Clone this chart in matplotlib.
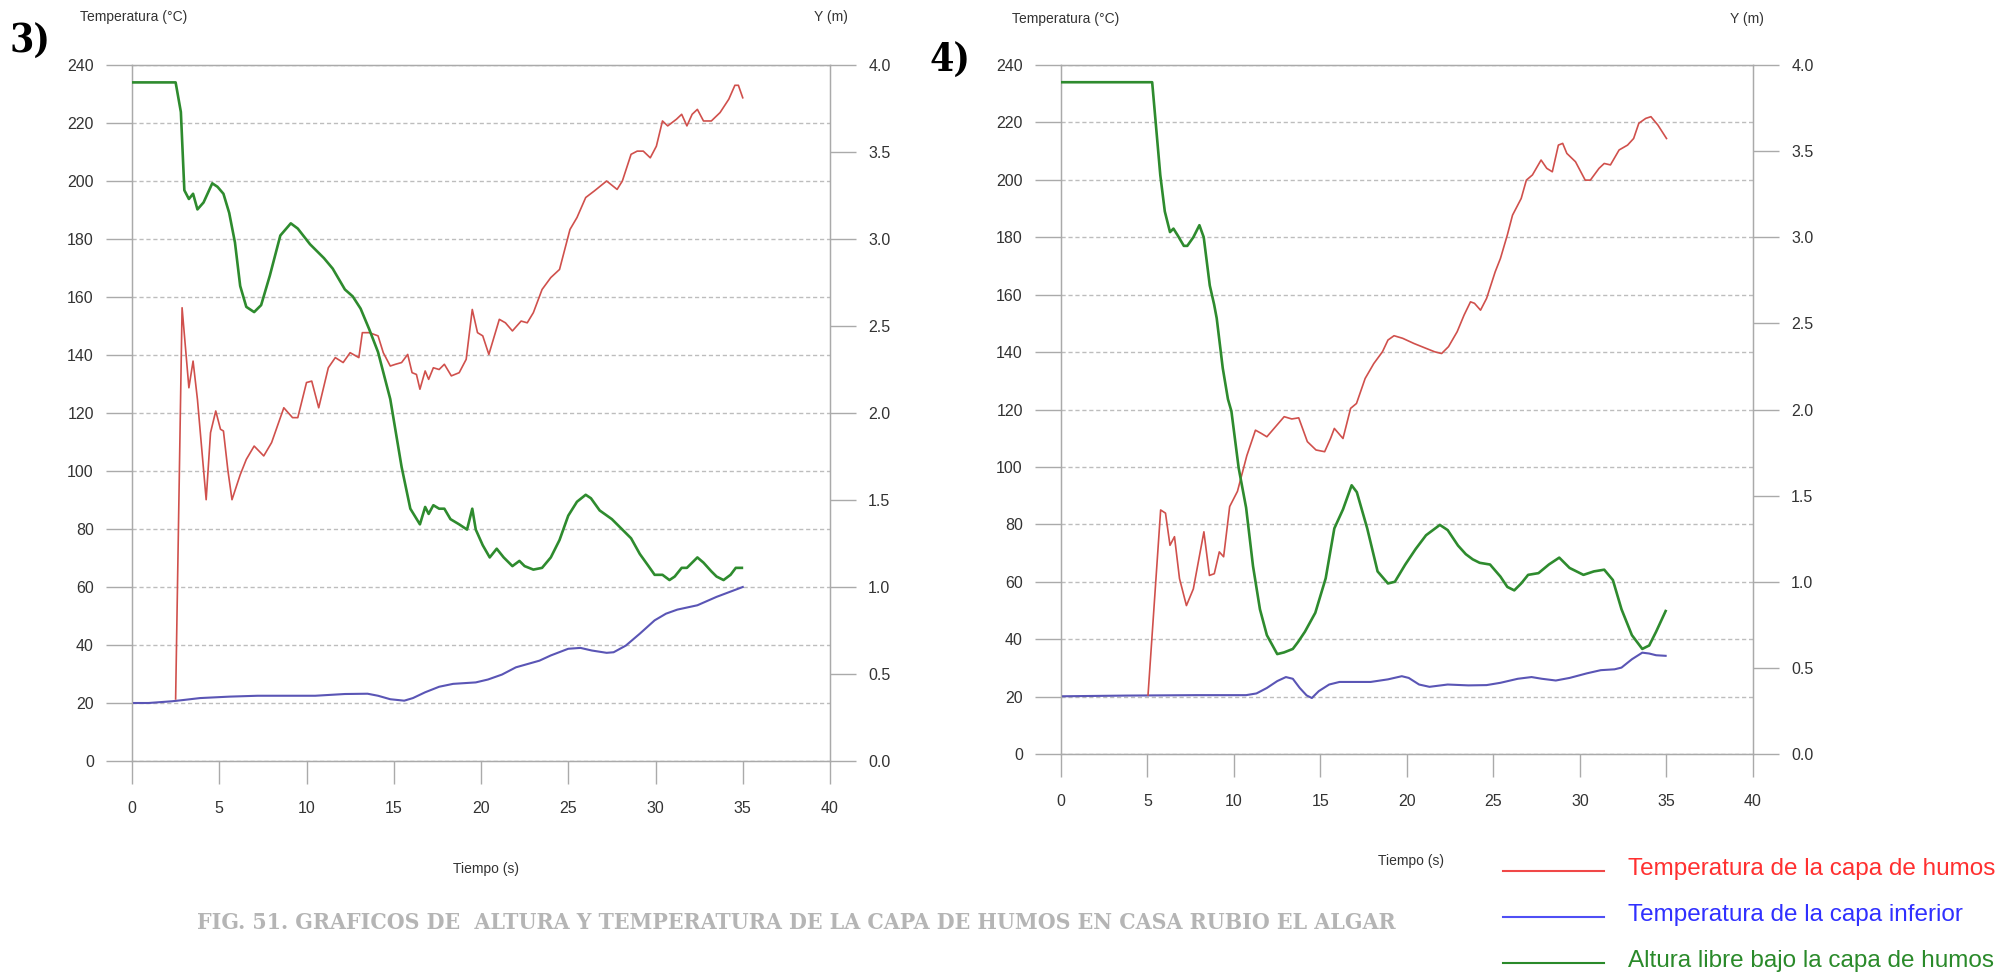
import matplotlib.pyplot as plt
from matplotlib.lines import Line2D

# ---- data (time in s, temperature in degC, height in m) ----
# chart 3)
t3_hot = [2.5, 2.87, 3.26, 3.5, 3.75, 4.25, 4.5, 4.8, 5.07, 5.24, 5.5, 5.73, 6.2, 6.55, 7.0,
          7.55, 8.0, 8.7, 9.2, 9.5, 10.0, 10.3, 10.7, 11.25, 11.65, 12.1, 12.5, 13.0, 13.2, 13.6,
          14.1, 14.4, 14.8, 15.1, 15.45, 15.8, 16.05, 16.3, 16.5, 16.8, 17.0, 17.27, 17.6, 17.9, 18.3,
          18.75, 19.15, 19.5, 19.8, 20.1, 20.45, 21.05, 21.4, 21.8, 22.3, 22.65, 23.0, 23.5, 24.0, 24.5,
          25.1, 25.5, 26.0, 26.5, 27.2, 27.8, 28.1, 28.6, 28.95, 29.3, 29.7, 30.05, 30.4, 30.7, 31.2,
          31.5, 31.8, 32.1, 32.4, 32.75, 33.2, 33.7, 34.2, 34.55, 34.75, 35.0]
T3_hot = [21.4, 156.3, 128.7, 137.9, 124.7, 90.1, 113.2, 120.7, 114.4, 113.8, 100.0, 90.1, 98.7, 104.0, 108.6,
          105.2, 109.8, 121.8, 118.4, 118.4, 130.5, 131.0, 121.8, 135.6, 139.1, 137.4, 140.8, 139.1, 147.7, 147.7,
          146.6, 140.8, 136.2, 136.8, 137.4, 140.2, 133.9, 133.3, 128.2, 134.5, 131.6, 135.6, 135.0, 136.8, 132.8,
          133.9, 138.5, 155.7, 147.7, 146.6, 140.2, 152.3, 151.1, 148.3, 151.7, 151.1, 154.6, 162.6, 166.7, 169.5,
          183.3, 187.4, 194.3, 196.6, 200.0, 197.1, 200.0, 209.2, 210.3, 210.3, 208.0, 212.0, 220.7, 219.0, 221.3,
          223.0, 219.0, 223.0, 224.7, 220.7, 220.7, 223.6, 228.2, 233.0, 233.0, 228.7]
t3_low = [0, 0.95, 2.3, 2.9, 3.9, 5.6, 7.2, 8.9, 10.5, 12.2, 13.5, 14.1, 14.8, 15.6, 16.1, 16.8, 17.6, 18.4,
          19.7, 20.4, 21.2, 22.0, 23.35, 24.0, 25.0, 25.7, 26.35, 27.2, 27.6, 28.3, 29.1, 29.95, 30.6, 31.25,
          32.4, 33.5, 35.0]
T3_low = [20.0, 20.0, 20.6, 21.0, 21.7, 22.2, 22.5, 22.5, 22.5, 23.1, 23.2, 22.5, 21.3, 20.8, 21.7, 23.7, 25.6, 26.6,
          27.1, 28.1, 29.8, 32.3, 34.6, 36.4, 38.7, 39.0, 38.1, 37.3, 37.5, 39.8, 43.9, 48.5, 50.8, 52.2,
          53.7, 56.6, 60.0]
t3_clear = [0, 2.5, 2.8, 3.0, 3.26, 3.5, 3.75, 4.1, 4.6, 4.9, 5.24, 5.57, 5.9, 6.2, 6.55, 7.0, 7.4, 7.9, 8.5, 9.1,
            9.5, 10.2, 11.0, 11.5, 12.2, 12.65, 13.1, 13.6, 14.1, 14.8, 15.45, 15.95, 16.5, 16.8, 17.0, 17.27,
            17.6, 17.9, 18.25, 18.75, 19.2, 19.5, 19.7, 20.1, 20.5, 20.9, 21.3, 21.8, 22.2, 22.5, 23.0, 23.5,
            24.0, 24.5, 25.0, 25.5, 26.0, 26.3, 26.8, 27.5, 28.1, 28.6, 29.1, 29.6, 29.95, 30.4, 30.8, 31.1,
            31.5, 31.8, 32.4, 32.75, 33.2, 33.5, 33.9, 34.3, 34.6, 34.95]
Y3_clear = [3.9, 3.9, 3.73, 3.28, 3.23, 3.26, 3.17, 3.21, 3.32, 3.30, 3.26, 3.15, 2.98, 2.73, 2.61, 2.58, 2.62, 2.79,
            3.02, 3.09, 3.06, 2.97, 2.89, 2.83, 2.71, 2.67, 2.60, 2.48, 2.35, 2.08, 1.69, 1.45, 1.36, 1.46, 1.42,
            1.47, 1.45, 1.45, 1.39, 1.36, 1.33, 1.45, 1.33, 1.24, 1.17, 1.22, 1.17, 1.12, 1.15, 1.12, 1.10, 1.11,
            1.17, 1.27, 1.41, 1.49, 1.53, 1.51, 1.44, 1.39, 1.33, 1.28, 1.19, 1.12, 1.07, 1.07, 1.04, 1.06, 1.11,
            1.11, 1.17, 1.14, 1.09, 1.06, 1.04, 1.07, 1.11, 1.11]

# chart 4)
t4_hot = [5.03, 5.76, 6.04, 6.3, 6.56, 6.85, 7.25, 7.65, 8.26, 8.58, 8.86, 9.15, 9.4, 9.75, 10.2, 10.74, 11.24,
          11.57, 11.9, 12.4, 12.9, 13.34, 13.74, 14.24, 14.74, 15.24, 15.58, 15.8, 16.3, 16.74, 17.08, 17.58,
          18.08, 18.58, 18.9, 19.25, 19.75, 20.4, 21.1, 21.6, 22.0, 22.4, 22.9, 23.3, 23.67, 23.9, 24.25, 24.6,
          25.1, 25.4, 25.8, 26.1, 26.6, 26.9, 27.25, 27.75, 28.08, 28.4, 28.75, 29.0, 29.24, 29.74, 30.3, 30.6,
          31.1, 31.4, 31.76, 32.26, 32.75, 33.1, 33.4, 33.8, 34.1, 34.5, 35.0]
T4_hot = [20.5, 85.0, 83.9, 72.7, 75.7, 61.1, 51.7, 57.5, 77.4, 62.2, 62.8, 70.4, 68.7, 86.2, 91.5, 103.9, 112.8,
          111.7, 110.5, 114.0, 117.5, 116.7, 117.1, 108.8, 105.9, 105.3, 109.9, 113.4, 109.9, 120.4, 122.1, 130.8,
          136.0, 140.1, 144.2, 145.7, 144.8, 143.0, 141.3, 140.1, 139.5, 141.9, 147.1, 152.9, 157.5, 157.0, 154.6,
          158.7, 168.0, 172.6, 180.8, 187.7, 193.5, 199.9, 201.7, 206.9, 204.0, 202.8, 212.1, 212.7, 209.2, 206.3,
          199.9, 199.9, 204.0, 205.7, 205.2, 210.4, 212.1, 214.4, 219.7, 221.4, 222.0, 219.1, 214.4]
t4_low = [0, 3.8, 7.85, 10.7, 11.3, 11.9, 12.5, 13.0, 13.4, 13.8, 14.2, 14.5, 14.9, 15.5, 16.1, 16.9, 17.9, 18.9,
          19.7, 20.1, 20.7, 21.3, 22.35, 23.55, 24.6, 25.4, 26.4, 27.2, 27.8, 28.6, 29.4, 30.4, 31.2, 32.0, 32.4,
          33.0, 33.6, 34.0, 34.4, 34.95]
T4_low = [20.1, 20.35, 20.5, 20.5, 21.1, 23.0, 25.4, 26.8, 26.2, 23.0, 20.4, 19.5, 21.9, 24.2, 25.1, 25.1, 25.1, 26.0,
          27.1, 26.5, 24.2, 23.4, 24.2, 23.9, 24.0, 24.8, 26.2, 26.8, 26.2, 25.6, 26.5, 28.1, 29.2, 29.5, 30.1,
          33.0, 35.3, 35.0, 34.4, 34.2]
t4_clear = [0, 5.27, 5.47, 5.74, 6.0, 6.3, 6.5, 6.75, 7.1, 7.3, 7.65, 8.0, 8.25, 8.6, 8.85, 9.0, 9.35, 9.65, 9.85,
            10.27, 10.7, 11.1, 11.5, 11.9, 12.5, 12.9, 13.4, 13.7, 14.1, 14.7, 15.3, 15.8, 16.3, 16.8, 17.1, 17.7,
            18.3, 18.9, 19.3, 19.9, 20.5, 21.1, 21.9, 22.35, 22.95, 23.4, 23.8, 24.2, 24.8, 25.4, 25.8, 26.2, 26.6,
            27.0, 27.6, 28.2, 28.8, 29.4, 30.2, 30.8, 31.4, 31.9, 32.4, 33.0, 33.6, 34.0, 34.4, 34.95]
Y4_clear = [3.9, 3.9, 3.67, 3.36, 3.15, 3.03, 3.05, 3.01, 2.95, 2.95, 3.00, 3.07, 3.00, 2.72, 2.61, 2.53, 2.24, 2.06,
            1.99, 1.66, 1.43, 1.09, 0.84, 0.69, 0.58, 0.59, 0.61, 0.65, 0.71, 0.82, 1.02, 1.31, 1.42, 1.56, 1.52,
            1.31, 1.06, 0.99, 1.0, 1.10, 1.19, 1.27, 1.33, 1.30, 1.21, 1.16, 1.13, 1.11, 1.10, 1.03, 0.97, 0.95,
            0.99, 1.04, 1.05, 1.10, 1.14, 1.08, 1.04, 1.06, 1.07, 1.01, 0.84, 0.69, 0.61, 0.63, 0.71, 0.83]

temp_ticks = [0, 20, 40, 60, 80, 100, 120, 140, 160, 180, 200, 220, 240]
height_ticks = [0.0, 0.5, 1.0, 1.5, 2.0, 2.5, 3.0, 3.5, 4.0]
time_ticks = [0, 5, 10, 15, 20, 25, 30, 35, 40]

legend_labels = ['Temperatura de la capa de humos', 'Temperatura de la capa inferior',
                 'Altura libre bajo la capa de humos']
legend_text_colors = ['#ff3030', '#3030ff', '#2a8a2a']
legend_line_colors = ['#f04848', '#4f4ff5', '#2a8a2a']

caption = 'FIG. 51. GRAFICOS DE  ALTURA Y TEMPERATURA DE LA CAPA DE HUMOS EN CASA RUBIO EL ALGAR'

RED = '#d0504c'
BLUE = '#5a55b5'
GREEN = '#2e8b2e'
AXIS_GRAY = '#aaaaaa'

plt.rcParams['font.family'] = ['Liberation Sans', 'DejaVu Sans']

W, H = 2008, 976
fig = plt.figure(figsize=(W / 100, H / 100), dpi=100)


def px(x, y):
    # figure pixel (from top-left) -> figure fraction
    return x / W, 1 - y / H


def draw_chart(x0, x40, y240, y0, t_hot, T_hot, t_low, T_low, t_clear, Y_clear):
    ax = fig.add_axes([x0 / W, 1 - y0 / H, (x40 - x0) / W, (y0 - y240) / H])
    ax.set_xlim(0, 40)
    ax.set_ylim(0, 240)
    ax.set_xticks(time_ticks)
    ax.set_yticks(temp_ticks)
    for s in ax.spines.values():
        s.set_color(AXIS_GRAY)
        s.set_linewidth(1)
    ax.tick_params(axis='y', length=18.5, width=1, color=AXIS_GRAY, pad=9,
                   labelsize=11.5, labelcolor='#333333')
    ax.tick_params(axis='x', length=16.5, width=1, color=AXIS_GRAY, pad=12,
                   labelsize=11.5, labelcolor='#333333')
    ax.yaxis.grid(True, color='#bdbdbd', linestyle=(0, (3, 2)), linewidth=1)
    ax.set_axisbelow(True)

    ax.plot(t_low, T_low, color=BLUE, lw=1.5, zorder=3)
    ax.plot(t_hot, T_hot, color=RED, lw=1.2, zorder=4)

    ax2 = ax.twinx()
    ax2.set_ylim(0, 4)
    ax2.set_yticks(height_ticks)
    ax2.set_yticklabels(['%.1f' % v for v in height_ticks])
    for s in ax2.spines.values():
        s.set_color(AXIS_GRAY)
    ax2.tick_params(axis='y', length=18.5, width=1, color=AXIS_GRAY, pad=9,
                    labelsize=11.5, labelcolor='#333333')
    ax2.plot(t_clear, Y_clear, color=GREEN, lw=1.9, zorder=5)
    return ax


draw_chart(132, 830, 65, 761, t3_hot, T3_hot, t3_low, T3_low, t3_clear, Y3_clear)
draw_chart(1061, 1753, 65, 754, t4_hot, T4_hot, t4_low, T4_low, t4_clear, Y4_clear)

# axis titles
small = dict(fontsize=10, color='#333333', va='center')
fig.text(*px(80, 17), 'Temperatura (°C)', ha='left', **small)
fig.text(*px(831, 17), 'Y (m)', ha='center', **small)
fig.text(*px(486, 869), 'Tiempo (s)', ha='center', **small)
fig.text(*px(1012, 19), 'Temperatura (°C)', ha='left', **small)
fig.text(*px(1747, 19), 'Y (m)', ha='center', **small)
fig.text(*px(1411, 861), 'Tiempo (s)', ha='center', **small)

# panel tags
tag = dict(fontsize=28, fontweight='bold', family='DejaVu Serif', fontstretch='condensed',
           color='black', va='center', ha='left')
fig.text(*px(10, 42), '3)', **tag)
fig.text(*px(930, 61), '4)', **tag)

# caption
fig.text(*px(796, 923), caption, fontsize=16.5, fontweight='bold', family='DejaVu Serif',
         fontstretch='condensed', color='#b5b5b5', ha='center', va='center')

# legend drawn at the bottom right
leg_y = [871, 917, 963]
for label, tc, lc, y in zip(legend_labels, legend_text_colors, legend_line_colors, leg_y):
    xa, ya = px(1503, y)
    xb, _ = px(1604, y)
    fig.add_artist(Line2D([xa, xb], [ya, ya], transform=fig.transFigure, color=lc, lw=1.5))
    fig.text(*px(1628, y - 2), label, fontsize=17.5, color=tc, ha='left', va='center')

fig.savefig('out.png', dpi=100)
